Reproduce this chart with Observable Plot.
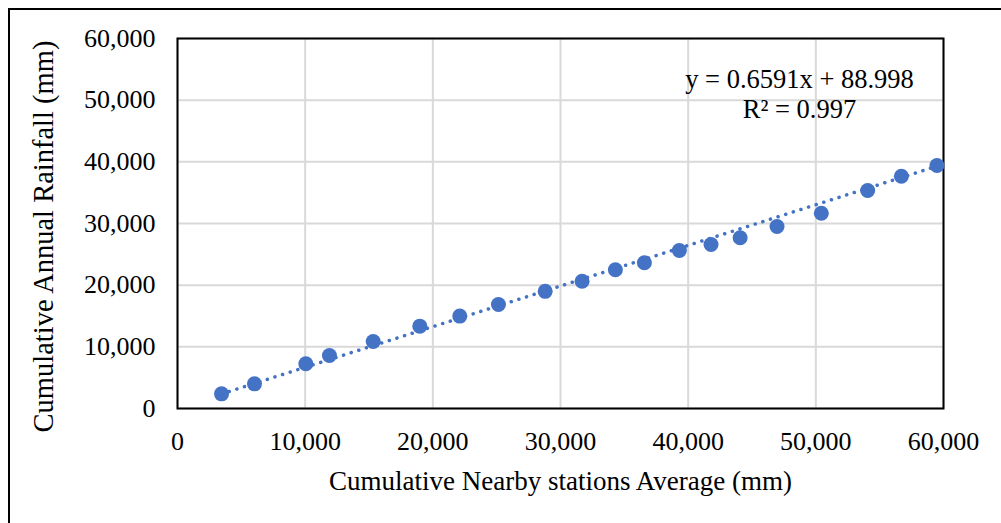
<!DOCTYPE html>
<html><head><meta charset="utf-8">
<script src="https://cdn.jsdelivr.net/npm/d3@7"></script>
<script src="https://cdn.jsdelivr.net/npm/@observablehq/plot@0.6"></script>
<style>
html,body{margin:0;padding:0;background:#fff;}
#wrap{position:relative;width:1001px;height:523px;overflow:hidden;}
#border{position:absolute;left:8px;top:8px;right:-10px;bottom:-10px;border-left:2px solid #000;border-top:2px solid #000;pointer-events:none;}
</style></head><body><div id="wrap"><div id="chart"></div><div id="border"></div></div>
<script>
const nearbyAvg = [3450, 6030, 10050, 11900, 15330, 18980, 22110, 25140, 28800, 31690, 34300, 36570, 39310, 41790, 44070, 46960, 50430, 54060, 56700, 59490];
const annualRain = [2380, 4000, 7250, 8590, 10860, 13350, 14980, 16870, 19000, 20640, 22490, 23630, 25620, 26590, 27680, 29510, 31670, 35350, 37670, 39400];
const xTicks = [0, 10000, 20000, 30000, 40000, 50000, 60000];
const yTicks = [0, 10000, 20000, 30000, 40000, 50000, 60000];
const slope = 0.6591, intercept = 88.998, r2 = 0.997;
const xTitle = "Cumulative Nearby stations Average (mm)";
const yTitle = "Cumulative Annual Rainfall (mm)";

const points = nearbyAvg.map((x, i) => ({x, y: annualRain[i]}));
const trend = d3.extent(nearbyAvg).map(x => ({x, y: slope * x + intercept}));
const fmt = d3.format(",");
const FS = 26;
const chart = Plot.plot({
  width: 1001, height: 523,
  marginLeft: 177, marginRight: 58, marginTop: 38, marginBottom: 115,
  style: {fontFamily: "'Liberation Serif', 'Times New Roman', serif", fontSize: FS + "px", color: "#000", background: "transparent", overflow: "visible"},
  x: {domain: [0, 60000]},
  y: {domain: [0, 60000]},
  marks: [
    Plot.gridX(xTicks, {stroke: "#d9d9d9", strokeOpacity: 1, strokeWidth: 2}),
    Plot.gridY(yTicks, {stroke: "#d9d9d9", strokeOpacity: 1, strokeWidth: 2}),
    Plot.frame({stroke: "#000", strokeWidth: 2}),
    Plot.axisX(xTicks, {tickSize: 0, tickPadding: 23, tickFormat: fmt, fontSize: FS, label: null}),
    Plot.axisY(yTicks, {tickSize: 0, tickPadding: 22, tickFormat: fmt, fontSize: FS, label: null}),
    Plot.dot(points, {x: "x", y: "y", r: 7.5, fill: "#4472C4", stroke: "none"}),
    Plot.line(trend, {x: "x", y: "y", stroke: "#4472C4", strokeWidth: 3.5, strokeDasharray: "0.1,7.9", strokeLinecap: "round"}),
    Plot.text([xTitle], {text: d => d, frameAnchor: "bottom", textAnchor: "middle", lineAnchor: "bottom", dy: 81, fontSize: 27}),
    Plot.text([yTitle], {text: d => d, frameAnchor: "left", textAnchor: "middle", lineAnchor: "bottom", rotate: -90, dx: -125, dy: 13, fontSize: 28.5}),
    Plot.text([`y = ${slope}x + ${intercept}\nR² = ${r2}`], {text: d => d, frameAnchor: "top-right", textAnchor: "middle", lineAnchor: "top", dx: -144, dy: 28, fontSize: 26.5, lineHeight: 1.13})
  ]
});
document.getElementById("chart").appendChild(chart);
</script>
</body></html>
